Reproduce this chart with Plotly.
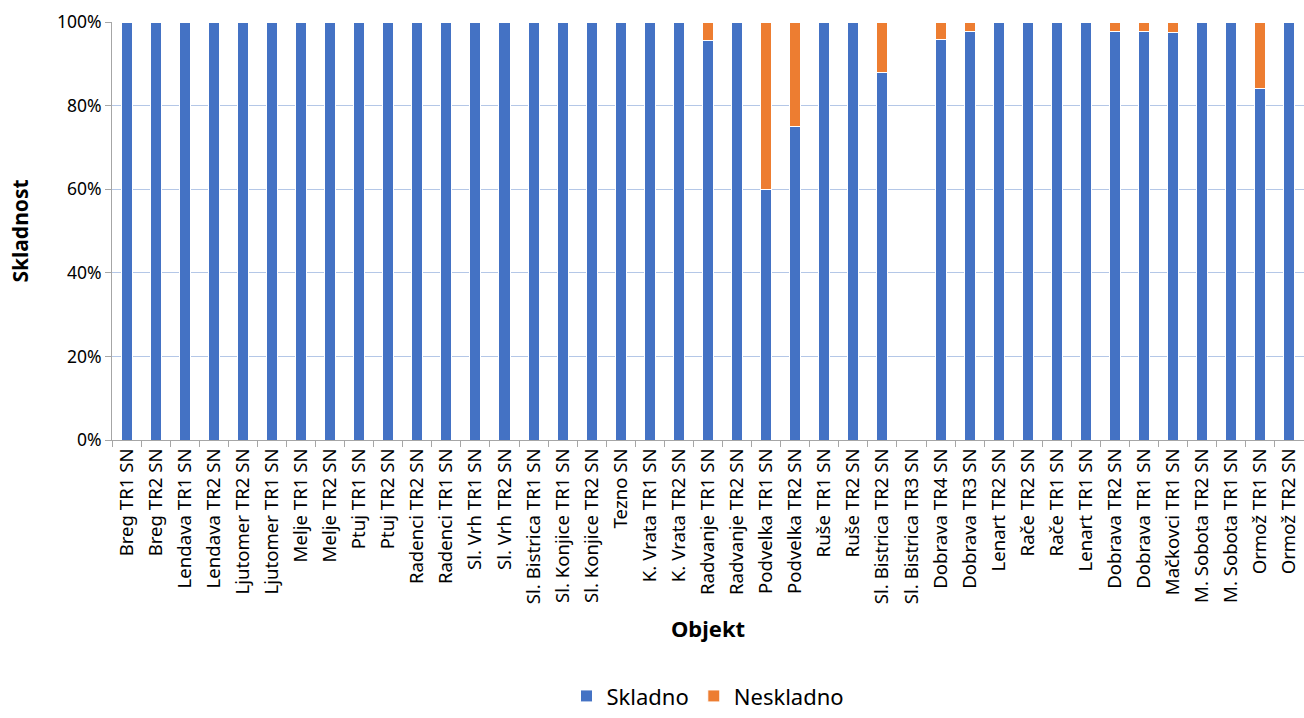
import plotly.graph_objects as go

categories = ["Breg TR1 SN", "Breg TR2 SN", "Lendava TR1 SN", "Lendava TR2 SN", "Ljutomer TR2 SN",
              "Ljutomer TR1 SN", "Melje TR1 SN", "Melje TR2 SN", "Ptuj TR1 SN", "Ptuj TR2 SN",
              "Radenci TR2 SN", "Radenci TR1 SN", "Sl. Vrh TR1 SN", "Sl. Vrh TR2 SN",
              "Sl. Bistrica TR1 SN", "Sl. Konjice TR1 SN", "Sl. Konjice TR2 SN", "Tezno SN",
              "K. Vrata TR1 SN", "K. Vrata TR2 SN", "Radvanje TR1 SN", "Radvanje TR2 SN",
              "Podvelka TR1 SN", "Podvelka TR2 SN", "Ruše TR1 SN", "Ruše TR2 SN",
              "Sl. Bistrica TR2 SN", "Sl. Bistrica TR3 SN", "Dobrava TR4 SN", "Dobrava TR3 SN",
              "Lenart TR2 SN", "Rače TR2 SN", "Rače TR1 SN", "Lenart TR1 SN", "Dobrava TR2 SN",
              "Dobrava TR1 SN", "Mačkovci TR1 SN", "M. Sobota TR2 SN", "M. Sobota TR1 SN",
              "Ormož TR1 SN", "Ormož TR2 SN"]

skladno = [1, 1, 1, 1, 1, 1, 1, 1, 1, 1,
           1, 1, 1, 1, 1, 1, 1, 1, 1, 1,
           0.955, 1, 0.60, 0.75, 1, 1, 0.88, 0, 0.957, 0.978,
           1, 1, 1, 1, 0.978, 0.978, 0.976, 1, 1, 0.84, 1]
neskladno = [0, 0, 0, 0, 0, 0, 0, 0, 0, 0,
             0, 0, 0, 0, 0, 0, 0, 0, 0, 0,
             0.045, 0, 0.40, 0.25, 0, 0, 0.12, 0, 0.043, 0.022,
             0, 0, 0, 0, 0.022, 0.022, 0.024, 0, 0, 0.16, 0]

font = "Noto Sans"
fig = go.Figure()
fig.add_bar(x=categories, y=skladno, name="Skladno",
            marker=dict(color="#4472C4", line=dict(color="white", width=1)))
fig.add_bar(x=categories, y=neskladno, name="Neskladno",
            marker=dict(color="#ED7D31", line=dict(color="white", width=1)))

fig.update_layout(
    barmode="stack", bargap=0.62,
    width=1304, height=718,
    margin=dict(l=112, r=0, t=22, b=278, autoexpand=False),
    plot_bgcolor="white", paper_bgcolor="white",
    font=dict(family=font, size=18, color="#000000"),
    legend=dict(orientation="h", x=0.5, xanchor="center", y=-0.663, yanchor="bottom",
                font=dict(size=22), traceorder="normal", itemwidth=30),
    xaxis=dict(tickangle=-90, showline=True, linecolor="#A6A6A6", ticks="outside",
               tickcolor="#A6A6A6", ticklen=6, tickson="boundaries",
               tickfont=dict(size=18.6),
               title=dict(text="<b>Objekt</b>", font=dict(size=22), standoff=18)),
    yaxis=dict(range=[0, 1], tickformat=".0%", dtick=0.2, showgrid=True, gridcolor="#B4C7E7",
               showline=True, linecolor="#A6A6A6", ticks="outside", tickcolor="#A6A6A6", ticklen=6,
               zeroline=False, tickfont=dict(size=17.5),
               title=dict(text="<b>Skladnost</b>", font=dict(size=21), standoff=22)),
    showlegend=True,
)
fig.write_html("out.html", config={"displayModeBar": False},
               post_script="document.body.style.margin='0';document.body.style.overflow='hidden';")
